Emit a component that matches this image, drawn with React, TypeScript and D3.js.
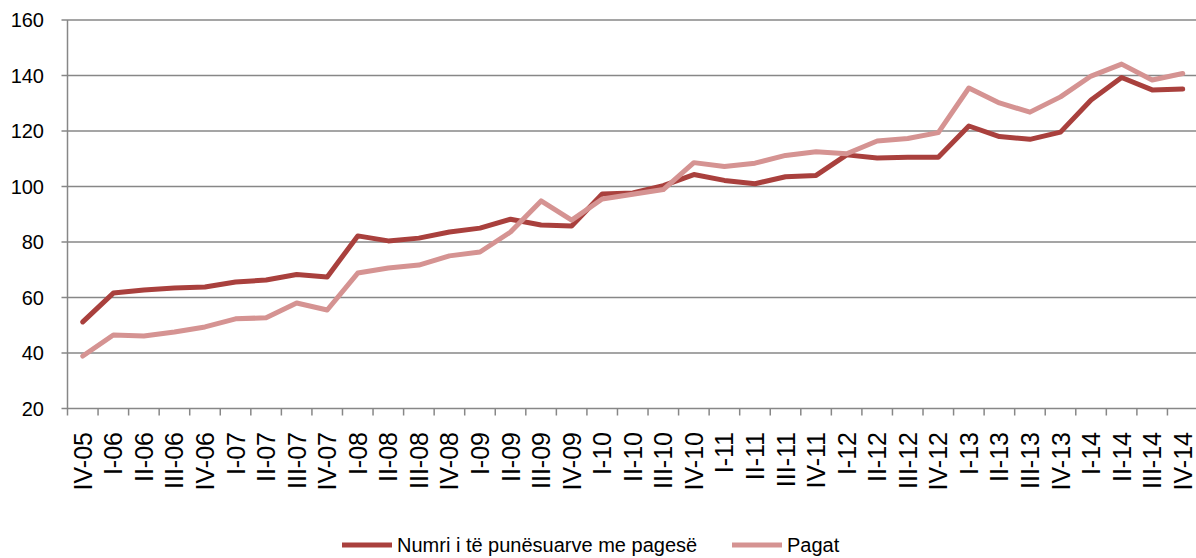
import React, { useRef, useEffect } from 'react';
import * as d3 from 'd3';

const quarters = [
  'IV-05', 'I-06', 'II-06', 'III-06', 'IV-06', 'I-07', 'II-07', 'III-07', 'IV-07',
  'I-08', 'II-08', 'III-08', 'IV-08', 'I-09', 'II-09', 'III-09', 'IV-09',
  'I-10', 'II-10', 'III-10', 'IV-10', 'I-11', 'II-11', 'III-11', 'IV-11',
  'I-12', 'II-12', 'III-12', 'IV-12', 'I-13', 'II-13', 'III-13', 'IV-13',
  'I-14', 'II-14', 'III-14', 'IV-14',
];

// Numri i të punësuarve me pagesë
const employed = [
  51.2, 61.6, 62.7, 63.4, 63.8, 65.6, 66.3, 68.3, 67.4,
  82.2, 80.4, 81.4, 83.6, 85.0, 88.2, 86.1, 85.8,
  97.3, 97.7, 100.3, 104.3, 102.2, 101.0, 103.5, 104.0,
  111.4, 110.3, 110.5, 110.5, 121.8, 118.0, 117.0, 119.6,
  131.2, 139.3, 134.8, 135.1,
];

// Pagat
const wages = [
  38.9, 46.5, 46.1, 47.6, 49.4, 52.3, 52.7, 58.0, 55.5,
  68.8, 70.6, 71.7, 75.0, 76.4, 83.6, 94.8, 87.9,
  95.5, 97.2, 98.9, 108.6, 107.2, 108.4, 111.2, 112.5,
  111.8, 116.4, 117.3, 119.4, 135.5, 130.1, 126.8, 132.3,
  139.8, 144.1, 138.4, 140.7,
];

const yTicks = [20, 40, 60, 80, 100, 120, 140, 160];

const seriesNames = ['Numri i të punësuarve me pagesë', 'Pagat'];
const seriesColors = ['#A9403D', '#D59392'];

export default function App() {
  const ref = useRef<SVGSVGElement>(null);

  useEffect(() => {
    const svg = d3.select(ref.current);
    svg.selectAll('*').remove();

    const width = 1196;
    const height = 558;
    const left = 67.5;
    const right = 1198;
    const top = 20;
    const bottom = 408.5;
    const font = 'Liberation Sans, Arial, sans-serif';

    svg.attr('width', width).attr('height', height);

    const x = d3.scaleBand<string>().domain(quarters).range([left, right]).padding(0);
    const y = d3.scaleLinear().domain([20, 160]).range([bottom, top]);
    const cx = (q: string) => (x(q) as number) + x.bandwidth() / 2;

    // gridlines + y labels
    const grid = svg.append('g');
    yTicks.forEach(t => {
      grid.append('line')
        .attr('x1', left - 6).attr('x2', width)
        .attr('y1', y(t)).attr('y2', y(t))
        .attr('stroke', '#878787').attr('stroke-width', 1.5);
      grid.append('text')
        .attr('x', 44).attr('y', y(t))
        .attr('text-anchor', 'end')
        .attr('dominant-baseline', 'central')
        .attr('font-family', font).attr('font-size', 20)
        .attr('fill', '#000')
        .text(t);
    });

    // left axis line
    svg.append('line')
      .attr('x1', left).attr('x2', left)
      .attr('y1', top).attr('y2', bottom)
      .attr('stroke', '#878787').attr('stroke-width', 1.5);

    // x ticks at band boundaries
    const bounds = quarters.map(q => x(q) as number).concat([right]);
    bounds.forEach(b => {
      if (b > width) return;
      svg.append('line')
        .attr('x1', b).attr('x2', b)
        .attr('y1', bottom).attr('y2', bottom + 7)
        .attr('stroke', '#878787').attr('stroke-width', 1.5);
    });

    // x labels, rotated
    svg.append('g')
      .selectAll('text')
      .data(quarters)
      .join('text')
      .attr('transform', d => `translate(${cx(d)}, 432) rotate(-90)`)
      .attr('text-anchor', 'end')
      .attr('dominant-baseline', 'central')
      .attr('font-family', font).attr('font-size', 25)
      .attr('fill', '#000')
      .text(d => d);

    // lines
    const line = d3.line<number>()
      .x((_, i) => cx(quarters[i]))
      .y(d => y(d));

    [employed, wages].forEach((vals, i) => {
      svg.append('path')
        .datum(vals)
        .attr('d', line)
        .attr('fill', 'none')
        .attr('stroke', seriesColors[i])
        .attr('stroke-width', 5)
        .attr('stroke-linejoin', 'round')
        .attr('stroke-linecap', 'round');
    });

    // legend
    const legendY = 545;
    const legendItems = [
      { x0: 342, x1: 392, tx: 397 },
      { x0: 732, x1: 782, tx: 787 },
    ];
    legendItems.forEach((it, i) => {
      svg.append('line')
        .attr('x1', it.x0).attr('x2', it.x1)
        .attr('y1', legendY).attr('y2', legendY)
        .attr('stroke', seriesColors[i]).attr('stroke-width', 5);
      svg.append('text')
        .attr('x', it.tx).attr('y', legendY)
        .attr('dominant-baseline', 'central')
        .attr('font-family', font).attr('font-size', 20)
        .attr('fill', '#000')
        .text(seriesNames[i]);
    });
  }, []);

  return (
    <svg
      ref={ref}
      style={{ position: 'absolute', left: 0, top: 0, display: 'block' }}
    />
  );
}
